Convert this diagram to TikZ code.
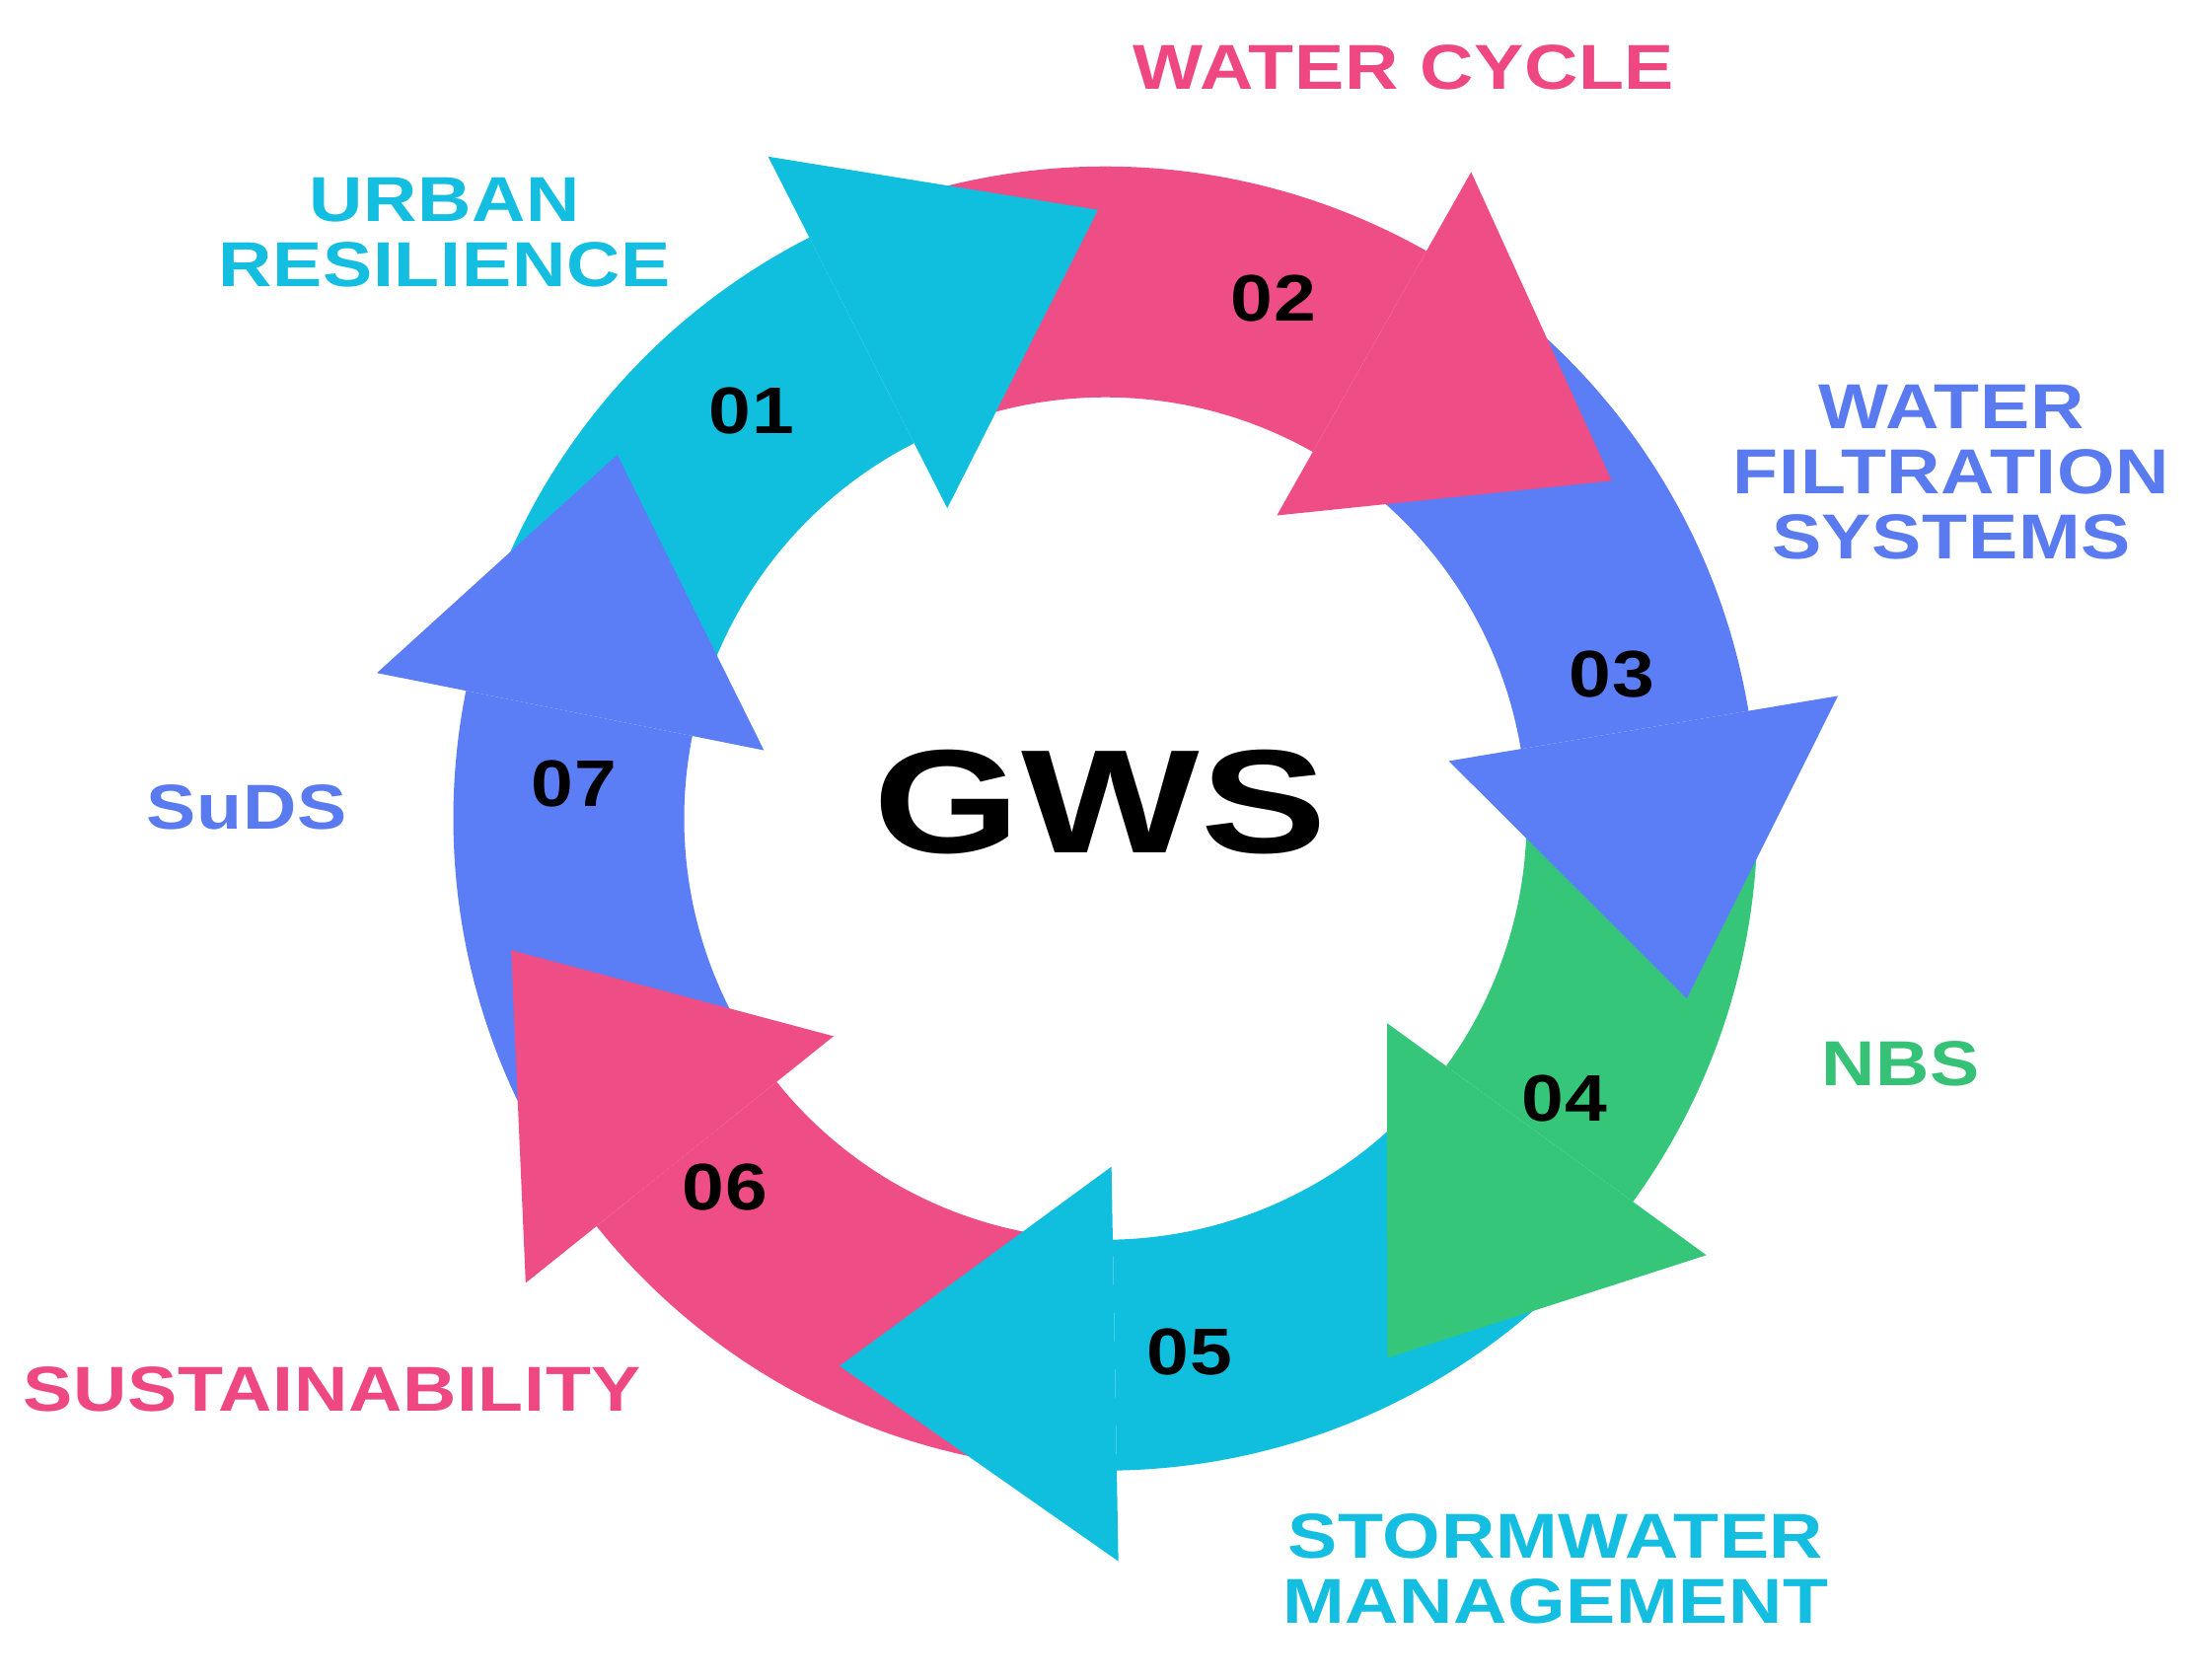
\documentclass[tikz,border=0pt]{standalone}
\usepackage{fontspec}
\newfontfamily\labfont[FakeStretch=1.17,LetterSpace=1]{Liberation Sans}
\newfontfamily\numfont[FakeStretch=1.15,LetterSpace=1]{Liberation Sans}
\newfontfamily\gwsfont[FakeStretch=1.28,LetterSpace=1]{Liberation Sans}
\definecolor{cyanA}{HTML}{10BFDE}
\definecolor{pinkA}{HTML}{EE4D86}
\definecolor{blueA}{HTML}{5B7DF6}
\definecolor{greenA}{HTML}{36C67A}
\definecolor{cyanT}{HTML}{14BEE0}
\definecolor{pinkT}{HTML}{EF4782}
\definecolor{blueT}{HTML}{5A7AF0}
\definecolor{greenT}{HTML}{36C276}
\tikzset{
  lbl/.style={font=\labfont\bfseries\fontsize{18.3}{18.8}\selectfont, align=center, inner sep=0pt},
  num/.style={font=\numfont\bfseries\fontsize{19}{19}\selectfont, text=black, inner sep=0pt},
}
\begin{document}
\begin{tikzpicture}[x=0.01cm,y=0.01cm]
\path[use as bounding box, fill=white] (-1120.5,-872.3) rectangle (1103.5,829.7);
% arrow bodies
\foreach \c/\t/\b in {cyanA/158.7/117, pinkA/107/60.5, blueA/50.5/9.5, greenA/-0.5/-36, cyanA/-46/-89, pinkA/-99/-141.3, blueA/-151.3/-191.3}
  \fill[\c] (\t:661) arc[start angle=\t, end angle=\b, radius=661] -- (\b:427) arc[start angle=\b, end angle=\t, radius=427] -- cycle;
% arrow heads
\foreach \c/\b/\p in {cyanA/117/90.7, pinkA/60.5/33.7, blueA/9.5/-17.2, greenA/-36/-62.4, cyanA/-89/-115.9, pinkA/-141.3/-167.5, blueA/-191.3/-216.7}
  \fill[\c] (\b:353) -- (\b:753) -- (\p:617) -- cycle;
% numbers
\node[num] (n01) at (-358.5,413.7) {01};
\node[num] (n02) at (170.5,527.7) {02};
\node[num] (n03) at (513.5,145.7) {03};
\node[num] (n04) at (465.5,-283.3) {04};
\node[num] (n05) at (85.5,-540.3) {05};
\node[num] (n06) at (-385.5,-373.3) {06};
\node[num] (n07) at (-538.5,35.7) {07};
% centre
\node[font=\gwsfont\bfseries\fontsize{42.5}{43}\selectfont, inner sep=0pt] (gws) at (-5,16.7) {GWS};
% labels
\node[lbl, text=pinkT] (wc) at (302.5,761.7) {WATER CYCLE};
\node[lbl, text=cyanT] (ur) at (-670,593.7) {URBAN\\RESILIENCE};
\node[lbl, text=blueT] (wfs) at (857.5,350.7) {WATER\\FILTRATION\\SYSTEMS};
\node[lbl, text=blueT] (suds) at (-870.5,11.7) {SuDS};
\node[lbl, text=greenT] (nbs) at (806.5,-248.3) {NBS};
\node[lbl, text=pinkT] (sus) at (-783.5,-578.3) {SUSTAINABILITY};
\node[lbl, text=cyanT] (swm) at (456.5,-760.8) {STORMWATER\\MANAGEMENT};
\end{tikzpicture}
\end{document}
